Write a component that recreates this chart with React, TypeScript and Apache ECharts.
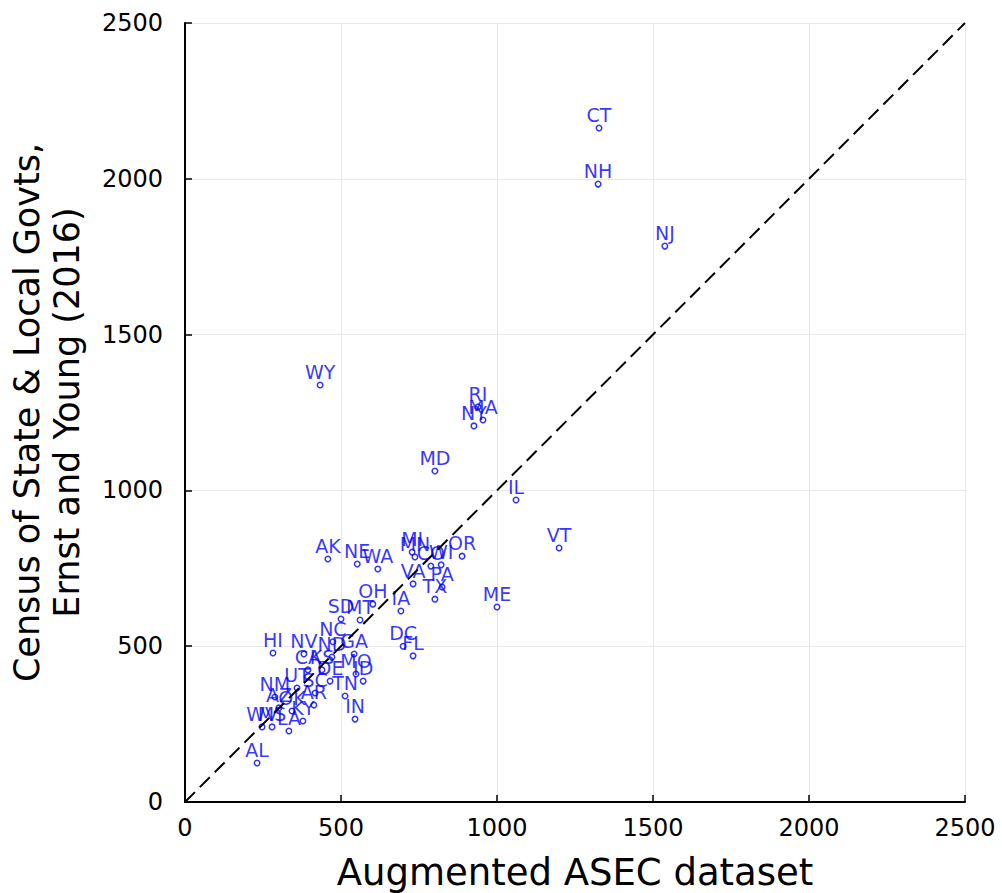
import React, { useEffect, useRef } from "react";
import * as echarts from "echarts";

const states = ["CT","NH","NJ","WY","RI","MA","NY","MD","IL","VT","ME","OR","MI","MN","CO","WI","VA","PA","TX","IA","DC","FL","AK","NE","WA","OH","SD","MT","NC","HI","NV","ND","GA","CA","KS","MO","DE","ID","UT","SC","TN","NM","AZ","OK","AR","KY","WV","MS","LA","IN","AL"];
const asec = [1327,1324,1538,433,939,955,926,801,1061,1199,1000,888,728,737,788,821,731,824,801,692,699,731,458,552,618,602,500,561,474,282,381,471,542,394,439,548,465,571,359,417,513,288,301,343,413,378,247,279,333,545,231];
const census = [2163,1983,1784,1338,1268,1226,1207,1062,969,815,626,789,802,786,757,761,700,690,651,613,500,469,780,764,748,635,587,584,514,478,475,465,475,424,424,411,388,388,366,350,340,337,302,292,311,260,241,241,228,266,125];
const ticks = [0, 500, 1000, 1500, 2000, 2500];

export default function App() {
  const ref = useRef<HTMLDivElement>(null);
  useEffect(() => {
    const chart = echarts.init(ref.current!, null, { renderer: "svg" });
    const font = "DejaVu Sans";
    const axisCommon = {
      type: "value",
      min: ticks[0],
      max: ticks[ticks.length - 1],
      interval: 500,
      axisLine: { show: true, onZero: false, lineStyle: { color: "#000", width: 2 } },
      axisTick: { show: true, inside: true, length: 7, lineStyle: { color: "#000", width: 1.5 } },
      splitLine: { show: true, lineStyle: { color: "#e8e8e8", width: 1 } },
    };
    chart.setOption({
      animation: false,
      backgroundColor: "#fff",
      grid: { left: 185, top: 23, right: 37, bottom: 91, containLabel: false, outerBoundsMode: "none" },
      xAxis: {
        ...axisCommon,
        name: "Augmented ASEC dataset",
        nameLocation: "middle",
        nameGap: 52,
        nameTextStyle: { fontFamily: font, fontSize: 37, color: "#000" },
        axisLabel: { fontFamily: font, fontSize: 24, color: "#000", margin: 14, formatter: (v: number) => String(v) },
      },
      yAxis: {
        ...axisCommon,
        name: "Census of State & Local Govts,\nErnst and Young (2016)",
        nameLocation: "middle",
        nameGap: 98,
        nameTextStyle: { fontFamily: font, fontSize: 35, color: "#000", lineHeight: 40 },
        axisLabel: { fontFamily: font, fontSize: 24, color: "#000", margin: 22, formatter: (v: number) => String(v) },
      },
      series: [
        {
          type: "line",
          data: [[0, 0], [2500, 2500]],
          symbol: "none",
          lineStyle: { color: "#000", width: 2, type: [14, 7] },
          silent: true,
        },
        {
          type: "scatter",
          data: states.map((s, i) => ({ name: s, value: [asec[i], census[i]] })),
          symbol: "circle",
          symbolSize: 5.5,
          itemStyle: { color: "#fff", borderColor: "#0000ff", borderWidth: 1.5 },
          label: {
            show: true,
            position: "top",
            distance: 0,
            formatter: (p: any) => p.name,
            color: "#0000ff",
            fontFamily: font,
            fontSize: 19,
          },
        },
      ],
    });
    return () => chart.dispose();
  }, []);
  return <div ref={ref} style={{ position: "absolute", left: 0, top: 0, width: 1002, height: 893 }} />;
}
